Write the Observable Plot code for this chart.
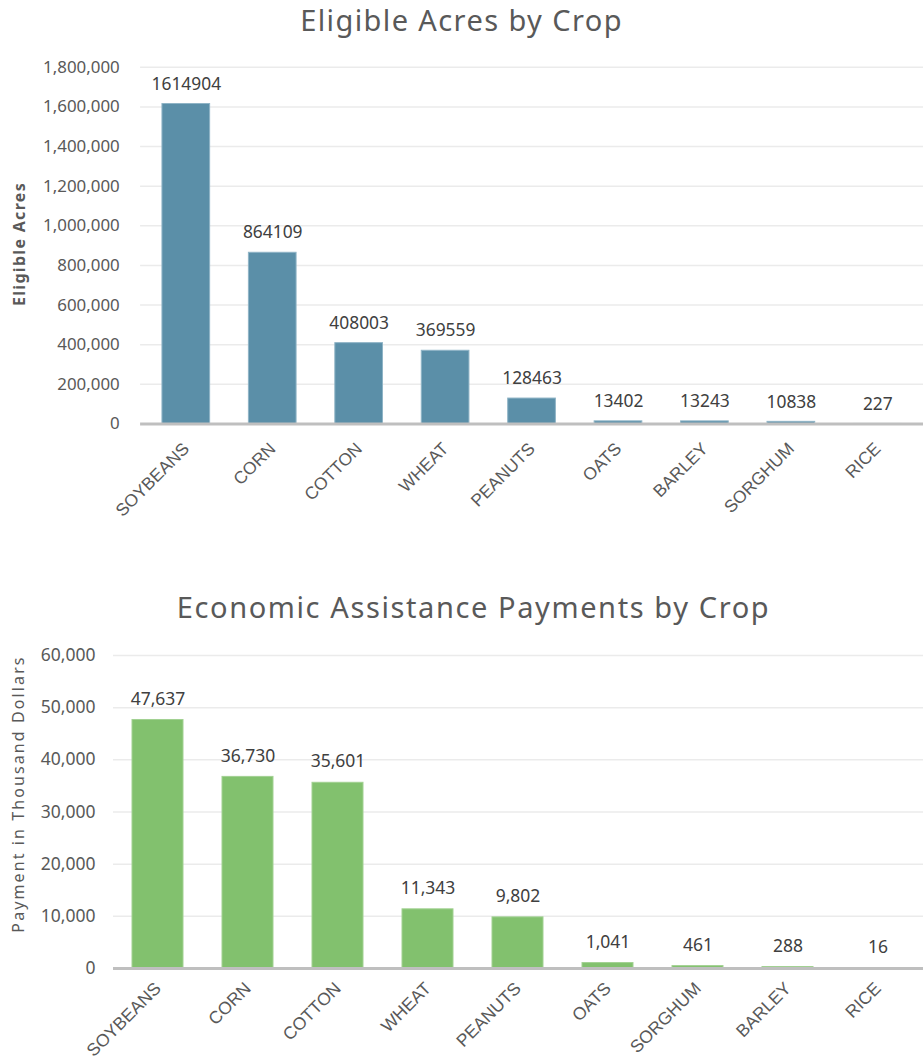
<!DOCTYPE html>
<html>
<head>
<meta charset="utf-8">
<script src="https://cdn.jsdelivr.net/npm/d3@7"></script>
<script src="https://cdn.jsdelivr.net/npm/@observablehq/plot@0.6"></script>
<style>
  html, body { margin: 0; padding: 0; background: #fff; overflow: hidden; }
  body { width: 923px; height: 1061px; position: relative; font-family: "Noto Sans", sans-serif; }
  .title { position: absolute; left: 0; width: 923px; text-align: center; color: #595959; font-size: 29px; font-weight: 400; line-height: 40px; }
  .chart { position: absolute; left: 0; }
  .ylab { position: absolute; width: 0; height: 0; }
  .ylab span { position: absolute; left: 0; top: 0; white-space: nowrap; color: #595959; transform-origin: 50% 50%; transform: translate(-50%, -50%) rotate(-90deg); line-height: 1; }
</style>
</head>
<body>
<div class="title" id="t1" style="top:0px; padding-left:0px; letter-spacing:1.4px;">Eligible Acres by Crop</div>
<div class="chart" id="c1" style="top:40px;"></div>
<div class="ylab" style="left:19px; top:244px;"><span style="font-size:16px; font-weight:bold; letter-spacing:1.3px;">Eligible Acres</span></div>
<div class="title" id="t2" style="top:587px; padding-left:12px; letter-spacing:1.6px;">Economic Assistance Payments by Crop</div>
<div class="chart" id="c2" style="top:630px;"></div>
<div class="ylab" style="left:18px; top:794px;"><span style="font-size:16px; letter-spacing:2.1px;">Payment in Thousand Dollars</span></div>
<script>
// Chart 1 data
const acresCrops = ["SOYBEANS", "CORN", "COTTON", "WHEAT", "PEANUTS", "OATS", "BARLEY", "SORGHUM", "RICE"];
const acresValues = [1614904, 864109, 408003, 369559, 128463, 13402, 13243, 10838, 227];
const acresTicks = [0, 200000, 400000, 600000, 800000, 1000000, 1200000, 1400000, 1600000, 1800000];

// Chart 2 data
const payCrops = ["SOYBEANS", "CORN", "COTTON", "WHEAT", "PEANUTS", "OATS", "SORGHUM", "BARLEY", "RICE"];
const payValues = [47637, 36730, 35601, 11343, 9802, 1041, 461, 288, 16];
const payTicks = [0, 10000, 20000, 30000, 40000, 50000, 60000];

const acresData = acresCrops.map((c, i) => ({crop: c, value: acresValues[i]}));
const payData = payCrops.map((c, i) => ({crop: c, value: payValues[i]}));

const tickFont = "Noto Sans, sans-serif";

function makeChart({data, crops, ticks, domainMax, width, height, mL, mT, mB, fill, stroke, valueFormat, labelDy, padding, xTickPadding, yTickPadding, yFont, vFont}) {
  return Plot.plot({
    width, height,
    marginLeft: mL, marginRight: 0, marginTop: mT, marginBottom: mB,
    style: {fontFamily: tickFont, fontSize: "16px", color: "#595959", background: "#fff", overflow: "visible"},
    x: {domain: crops, paddingInner: padding, paddingOuter: padding / 2, label: null},
    y: {domain: [0, domainMax], label: null},
    marks: [
      Plot.ruleY(ticks.filter(t => t > 0), {stroke: "#ebebeb", strokeWidth: 1.5}),
      Plot.barY(data, {x: "crop", y: "value", fill, stroke, strokeWidth: 1}),
      Plot.ruleY([0], {stroke: "#bfbfbf", strokeWidth: 3}),
      Plot.text(data, {x: "crop", y: "value", text: d => valueFormat(d.value), dy: labelDy, fill: "#404040", fontSize: vFont, fontFamily: tickFont}),
      Plot.axisY({ticks, tickFormat: d3.format(","), tickSize: 0, tickPadding: yTickPadding, fontSize: yFont, fill: "#595959", label: null}),
      Plot.axisX({tickRotate: -45, tickSize: 0, tickPadding: xTickPadding, fontSize: 17.5, fontFamily: "Liberation Sans, Arial, sans-serif", fill: "#595959", label: null})
    ]
  });
}

document.getElementById("c1").append(makeChart({
  data: acresData, crops: acresCrops, ticks: acresTicks, domainMax: 1800000,
  width: 929, height: 500, mL: 141, mT: 27, mB: 114,
  fill: "#5b8fa8", stroke: "#8fb4c6",
  valueFormat: d => String(d), labelDy: -20, padding: 0.45, xTickPadding: 22, yTickPadding: 21, yFont: 17, vFont: 17.5
}));

document.getElementById("c2").append(makeChart({
  data: payData, crops: payCrops, ticks: payTicks, domainMax: 60000,
  width: 923, height: 431, mL: 113, mT: 25, mB: 93,
  fill: "#82c16e", stroke: "#a2d192",
  valueFormat: d3.format(","), labelDy: -21, padding: 0.43, xTickPadding: 17, yTickPadding: 18, yFont: 17.5, vFont: 17.5
}));
</script>
</body>
</html>
